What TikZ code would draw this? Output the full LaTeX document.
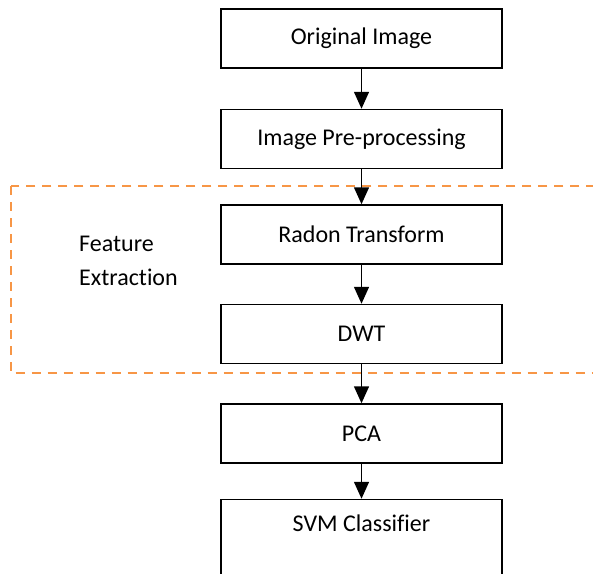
\documentclass[tikz,border=0pt]{standalone}
\usepackage{fontspec}
\setmainfont{Carlito}[Ligatures=CommonOff]
\usetikzlibrary{positioning,arrows.meta}
\definecolor{dashorange}{HTML}{F79646}

\begin{document}
\begin{tikzpicture}[
    x=1pt, y=1pt,
    node distance=40pt,
    box/.style={rectangle, draw, line width=1.5pt, minimum width=281pt, minimum height=59pt, text centered, inner sep=0pt, font=\fontsize{24}{29}\selectfont},
    arrow/.style={-{Triangle[length=17pt, width=15pt]}, line width=1.5pt},
    featframe/.style={draw=dashorange, line width=2pt, dash pattern=on 9pt off 7pt}
]
    \path[use as bounding box, clip] (0,0) rectangle (593,-573);

    % Feature Extraction frame
    \draw[featframe] (10.6,-186) rectangle (620,-373);
    \node[anchor=west, align=left, inner sep=0pt, font=\fontsize{24}{34}\selectfont] (feat) at (79,-261) {Feature\\Extraction};

    % Processing chain
    \node[box] (orig) at (361.5,-38.5) {Original Image};
    \node[box, below=40pt of orig] (prep) {Image Pre-processing};
    \node[box, below=35pt of prep] (radon) {Radon Transform};
    \node[box, below=39pt of radon] (dwt) {DWT};
    \node[box, below=39pt of dwt] (pca) {PCA};
    \node[box, below=35pt of pca, text height=32pt, text depth=70pt] (svm) {SVM Classifier};

    % Arrows
    \draw[arrow] (orig) -- (prep);
    \draw[arrow] (prep) -- (radon);
    \draw[arrow] (radon) -- (dwt);
    \draw[arrow] (dwt) -- (pca);
    \draw[arrow] (pca) -- (svm);
\end{tikzpicture}
\end{document}
